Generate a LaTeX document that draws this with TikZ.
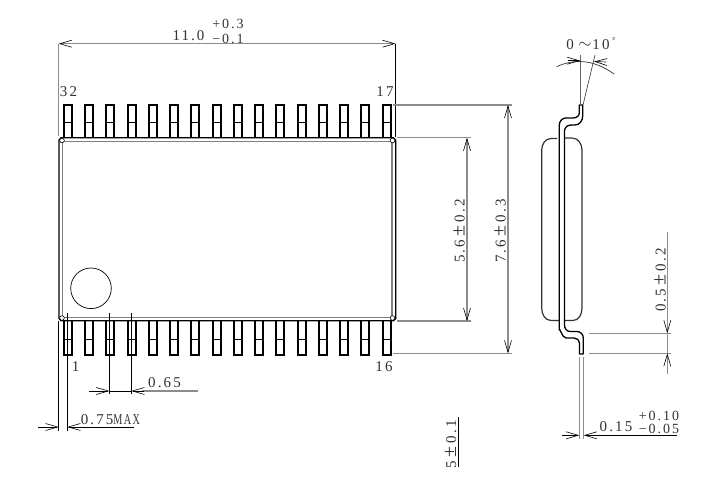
\documentclass[tikz,border=0pt]{standalone}
\usepackage{fontspec}
\setmainfont{Liberation Serif}
\newfontfamily\dimfont[LetterSpace=14]{Liberation Serif}
\usetikzlibrary{arrows.meta}
\newcommand\pmwide{\kern3.5pt{\fontsize{20}{20}\selectfont ±}\kern3.5pt}
\tikzset{
  x=1pt,y=-1pt,
  pin/.style={black,line width=1.9pt},
  bodyk/.style={black,line width=1.2pt},
  bodyg/.style={black!50,line width=1.5pt},
  thin dim/.style={black,line width=0.6pt},
  gray dim/.style={black!45,line width=1.1pt},
  vee/.style={-{Straight Barb[length=12pt,width=7pt,line width=0.6pt,black]}},
  lab/.style={font=\dimfont\fontsize{15}{16}\selectfont,text=black!80,inner sep=0pt},
  tol/.style={font=\dimfont\fontsize{14}{15}\selectfont,text=black!80,inner sep=0pt},
}
\begin{document}
\begin{tikzpicture}
\useasboundingbox (0,0) rectangle (716,483);
\fill[white] (0,0) rectangle (716,483);
% pins
\foreach \i in {0,...,15}{
  \pgfmathsetmacro{\xa}{round(63.7+21.27*\i)}
  \pgfmathsetmacro{\xb}{\xa+8}
  \draw[pin] (\xa,137.7) -- (\xa,105) -- (\xb,105) -- (\xb,137.7);
  \draw[black,line width=1pt] (\xa,122.5) -- (\xb,122.5);
  \draw[pin] (\xa,321) -- (\xa,355) -- (\xb,355) -- (\xb,321);
  \draw[black,line width=1pt] (\xa,339.5) -- (\xb,339.5);
}
% body
\draw[bodyk] (59,140) -- (61,137.7) -- (393.5,137.7) -- (395.7,140) -- (395.7,318.5) -- (393.5,320.8) -- (61,320.8) -- (59,318.5) -- cycle;
\draw[bodyg] (62.5,141.7) -- (391.8,141.7) -- (391.8,317.3) -- (62.5,317.3) -- cycle;
\foreach \p in {(62,140.5),(392.5,140.5),(392.5,318),(62,318)}
  \draw[black,fill=white,line width=0.6pt] \p circle (2.3);
\draw[black,line width=0.7pt] (91,288.3) circle (20.3);
% top dimension
\draw[gray dim] (58.7,43.7) -- (58.7,136);
\draw[thin dim] (395.6,43.7) -- (395.6,137);
\draw[gray dim,vee] (228,43.7) -- (58.7,43.7);
\draw[gray dim,vee] (228,43.7) -- (395.6,43.7);
\node[lab] at (188.5,36) {11.0};
\node[tol] at (228,24) {+0.3};
\node[tol] at (228,39) {−0.1};
\node[lab] at (68.5,92) {32};
\node[lab] at (385,92) {17};
\node[lab] at (384,367) {16};
\node[lab] at (75.5,367) {1};
% 0.65
\draw[thin dim] (109.3,313) -- (109.3,394);
\draw[thin dim] (131.3,313) -- (131.3,394);
\draw[thin dim,vee] (89.3,391) -- (109.3,391);
\draw[gray dim] (142,391) -- (197.7,391);
\draw[thin dim,vee] (144,391) -- (131.3,391);
\draw[thin dim] (109.3,391) -- (131.3,391);
\node[lab] at (164.5,383) {0.65};
% 0.75MAX
\draw[thin dim] (58.7,321) -- (58.7,431);
\draw[thin dim] (67.3,313) -- (67.3,431);
\draw[thin dim,vee] (38,427) -- (58.7,427);
\draw[thin dim,vee] (134,427) -- (67.3,427);
\node[lab] at (110.5,420) {0.75\scalebox{.68}[1]{MAX}};
% 5.6 and 7.6
\draw[gray dim] (397,137.7) -- (471,137.7);
\draw[gray dim] (397,321) -- (471,321);
\draw[gray dim,vee] (467,229) -- (467,137.7);
\draw[gray dim,vee] (467,229) -- (467,321);
\draw[gray dim] (393,105) -- (512,105);
\draw[gray dim] (393,353.5) -- (512,353.5);
\draw[gray dim,vee] (508,229) -- (508,105);
\draw[gray dim,vee] (508,229) -- (508,353.5);
\node[lab,rotate=90] at (459,231) {5.6\pmwide 0.2};
\node[lab,rotate=90] at (500,231) {7.6\pmwide 0.3};
% clipped label at the lower edge
\begin{scope}
  \clip (440,415) rectangle (470,467);
  \draw[thin dim] (458.3,417) -- (458.3,467);
  \node[lab,rotate=90,anchor=east] at (450.5,420) {5\pmwide 0.1};
\end{scope}
% side view: body
\draw[black!80,line width=1.2pt] (557,138.5) -- (551,138.5) to[out=180,in=90] (541.7,150) -- (541.7,308) to[out=-90,in=180] (551,320.5) -- (559,320.5);
\draw[black!80,line width=1.2pt] (565,138) -- (572,138) to[out=0,in=90] (582,150) -- (582,308) to[out=-90,in=0] (573,320.5) -- (565,320.5);
% side view: lead
\draw[black,line width=1.3pt,line join=round] (579.3,113) -- (579.3,105) -- (582.7,105) -- (582.7,116) to[out=-90,in=0] (575,125) -- (571,125) to[out=180,in=90] (564.5,131) -- (564.5,325) to[out=-90,in=180] (570,331.5) -- (577,331.5) to[out=0,in=90] (583.3,338) -- (583.3,354) -- (579.5,354) -- (579.5,343) to[out=90,in=0] (574,338) -- (566,338) to[out=180,in=90] (559.3,330) -- (559.3,125) to[out=90,in=180] (566,118) -- (573,118) to[out=0,in=-90] (579.3,113);
% angle dimension
\draw[black!60,line width=0.6pt] (580.3,55) -- (580.3,105);
\draw[black!80,line width=0.6pt] (595,55) -- (583,105);
\draw[black!80,line width=0.7pt] (556.7,66.7) .. controls (572,59.5) and (592,58) .. (614,74);
\draw[vee,line width=0.6pt] (568,60.7) -- (580.3,60.7);
\draw[vee,line width=0.6pt] (606,62) -- (594,61.5);
\node[lab] at (570,45) {0};
\node[inner sep=0pt,text=black!80] at (585,45) {\scalebox{1.7}{$\sim$}};
\node[lab] at (601,45) {10};
\node[lab,font=\fontsize{9}{9}\selectfont] at (614,41) {°};
% 0.5 dimension
\draw[gray dim] (589,333.3) -- (671,333.3);
\draw[gray dim] (589,353.3) -- (671,353.3);
\draw[gray dim,vee] (667.3,232) -- (667.3,333.3);
\draw[gray dim,vee] (667.3,374) -- (667.3,353.3);
\draw[gray dim] (667.3,333.3) -- (667.3,353.3);
\node[lab,rotate=90] at (660,280) {0.5\pmwide 0.2};
% 0.15 dimension
\draw[gray dim] (579.3,357) -- (579.3,439);
\draw[gray dim] (583.7,357) -- (583.7,439);
\draw[thin dim,vee] (562,435.3) -- (579.3,435.3);
\draw[thin dim,vee] (676.7,435.3) -- (583.7,435.3);
\node[lab] at (616,427) {0.15};
\node[tol] at (659,416) {+0.10};
\node[tol] at (659,429) {−0.05};
\end{tikzpicture}
\end{document}
